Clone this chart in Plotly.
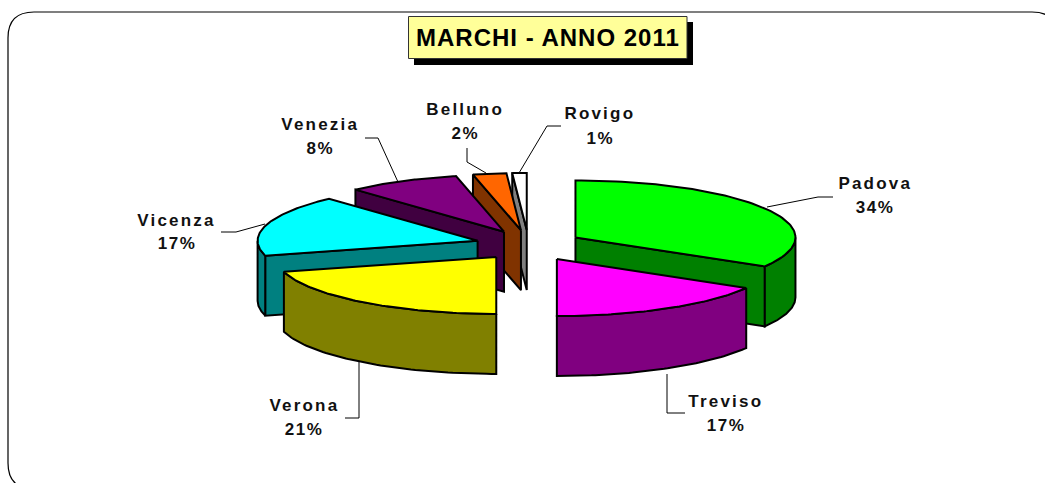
import numpy as np
import plotly.graph_objects as go

# ---- data ----
categories = ["Padova", "Treviso", "Verona", "Vicenza", "Venezia", "Belluno", "Rovigo"]
values = [33.5, 16.5, 20.8, 17.4, 8.3, 2.45, 1.05]
pct_labels = ["34%", "17%", "21%", "17%", "8%", "2%", "1%"]
title_text = "MARCHI - ANNO 2011"

# ---- styles ----
top_colors = ["#00FF00", "#FF00FF", "#FFFF00", "#00FFFF", "#800080", "#FF6600", "#FFFFFF"]
side_colors = ["#008000", "#800080", "#808000", "#008080", "#400040", "#803300", "#808080"]
pull = [1.02, 1.08, 1.0, 1.0, 1.0, 1.0, 1.0]
draw_order = [6, 5, 4, 3, 2, 0, 1]

# ---- projection of the 3D pie onto the page ----
CX, CY = 528.5, 245.0
RX, RY = 220.0, 57.0
EX, EY = 53.0, 15.0
DEPTH = 60.0
W, H = 1045, 483

label_pos = {  # x centre, y of name, y of percentage
    "Padova": (875, 183, 207), "Treviso": (726, 401, 425), "Verona": (304, 405, 429),
    "Vicenza": (177, 220, 243), "Venezia": (320, 124, 148),
    "Belluno": (465, 109, 133), "Rovigo": (600, 113, 138),
}
leaders = {
    "Padova": [(767, 207), (818, 197), (833, 197)],
    "Treviso": [(667, 374), (667, 413), (685, 413)],
    "Verona": [(359, 362), (359, 418), (345, 418)],
    "Vicenza": [(265, 224), (236, 232), (221, 232)],
    "Venezia": [(398, 182), (378, 138), (365, 138)],
    "Belluno": [(486, 173), (467, 162), (467, 148)],
    "Rovigo": [(519, 173), (547, 126), (561, 126)],
}

vals = np.array(values, dtype=float)
edges = np.concatenate([[0], np.cumsum(vals)]) / vals.sum() * 2 * np.pi

fig = go.Figure()


def face(xs, ys, color):
    fig.add_trace(go.Scatter(
        x=list(xs), y=list(ys), mode="lines", fill="toself", fillcolor=color,
        line=dict(color="black", width=2), hoverinfo="skip", showlegend=False,
    ))


for i in draw_order:
    a0, a1 = edges[i], edges[i + 1]
    mid = (a0 + a1) / 2
    ax = CX + pull[i] * EX * np.sin(mid)
    ay = CY - pull[i] * EY * np.cos(mid)
    px = lambda t: ax + RX * np.sin(t)
    py = lambda t: ay - RY * np.cos(t)

    # radial cut faces
    if np.sin(a0) < -1e-6:
        face([ax, px(a0), px(a0), ax, ax],
             [ay, py(a0), py(a0) + DEPTH, ay + DEPTH, ay], side_colors[i])
    if np.sin(a1) > 1e-6:
        face([ax, px(a1), px(a1), ax, ax],
             [ay, py(a1), py(a1) + DEPTH, ay + DEPTH, ay], side_colors[i])
    # outer rim (front half only)
    r0, r1 = max(a0, np.pi / 2), min(a1, 3 * np.pi / 2)
    if r1 > r0:
        t = np.linspace(r0, r1, 60)
        face(np.r_[px(t), px(t)[::-1], px(t)[0]],
             np.r_[py(t), py(t)[::-1] + DEPTH, py(t)[0]], side_colors[i])
    # top surface
    t = np.linspace(a0, a1, 80)
    face(np.r_[ax, px(t), ax], np.r_[ay, py(t), ay], top_colors[i])

# leader lines
for name in categories:
    pts = leaders[name]
    fig.add_trace(go.Scatter(
        x=[p[0] for p in pts], y=[p[1] for p in pts], mode="lines",
        line=dict(color="black", width=1), hoverinfo="skip", showlegend=False,
    ))

# labels
annotations = []
for name, pct in zip(categories, pct_labels):
    x, y1, y2 = label_pos[name]
    for txt, y in ((name, y1), (pct, y2)):
        annotations.append(dict(
            x=x, y=y, xref="x", yref="y", text=f"<b>{txt}</b>", showarrow=False,
            xanchor="center", yanchor="middle",
            font=dict(family="Liberation Sans", size=17, color="#111111"),
        ))
annotations.append(dict(
    x=548, y=37, xref="x", yref="y", text=f"<b>{title_text}</b>", showarrow=False,
    xanchor="center", yanchor="middle",
    font=dict(family="Liberation Sans", size=24, color="black"),
))

# frame path (runs past the right and bottom of the page)
L, T, R_, B, r = 8, 12, 1058, 489, 26
frame = (f"M {L+r},{T} L {R_-r},{T} Q {R_},{T} {R_},{T+r} L {R_},{B-r} Q {R_},{B} {R_-r},{B} "
         f"L {L+r},{B} Q {L},{B} {L},{B-r} L {L},{T+r} Q {L},{T} {L+r},{T} Z")

shapes = [
    dict(type="path", path=frame, xref="x", yref="y", line=dict(color="black", width=1.2),
         fillcolor="rgba(0,0,0,0)", layer="below"),
    dict(type="rect", x0=414, y0=22, x1=693, y1=65, xref="x", yref="y",
         line=dict(width=0), fillcolor="black", layer="below"),
    dict(type="rect", x0=408.5, y0=16.5, x1=687, y1=58.5, xref="x", yref="y",
         line=dict(color="#333333", width=1), fillcolor="#FFFF99", layer="below"),
]

fig.update_layout(
    width=W, height=H, margin=dict(l=0, r=0, t=0, b=0),
    paper_bgcolor="white", plot_bgcolor="white", showlegend=False,
    xaxis=dict(range=[0, W], visible=False, fixedrange=True),
    yaxis=dict(range=[H, 0], visible=False, fixedrange=True),
    shapes=shapes, annotations=annotations,
)

post = """
document.body.style.margin='0';document.body.style.overflow='hidden';
document.querySelectorAll('.annotation-text').forEach(function(t){
  var s=t.textContent;
  if(s.indexOf('MARCHI')>=0){t.style.letterSpacing='1px';}
  else if(s.indexOf('%')>=0){t.style.letterSpacing='1.5px';}
  else{t.style.letterSpacing='2.2px';}
});
"""
fig.write_html("out.html", post_script=post, config={"displayModeBar": False})
